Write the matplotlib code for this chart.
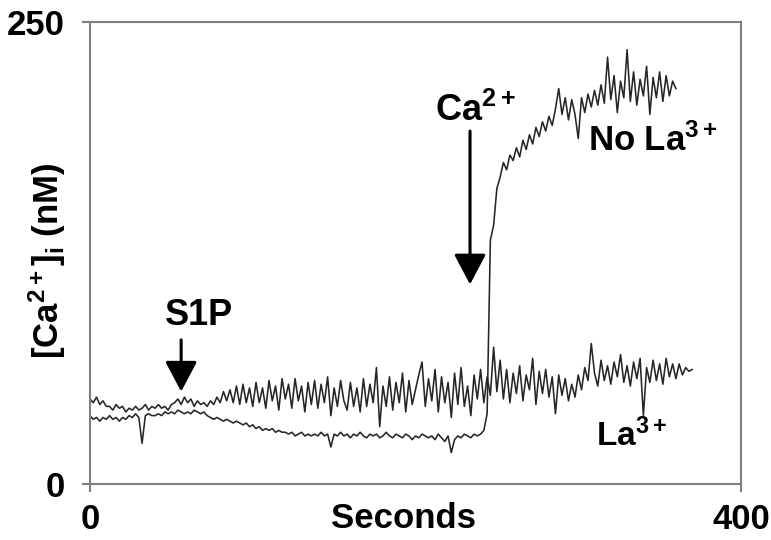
import numpy as np
import matplotlib
matplotlib.use("Agg")
import matplotlib.pyplot as plt

plt.rcParams['font.family'] = ['Liberation Sans', 'DejaVu Sans']
plt.rcParams['font.weight'] = 'bold'
plt.rcParams['mathtext.fontset'] = 'custom'
plt.rcParams['mathtext.rm'] = 'Liberation Sans:bold'
plt.rcParams['mathtext.bf'] = 'Liberation Sans:bold'
plt.rcParams['mathtext.it'] = 'Liberation Sans:bold'
plt.rcParams['mathtext.default'] = 'bf'

# sample grid (seconds), one reading every 2 s
time_la = np.arange(0, 372, 2)      # La3+ trace, 0..370 s
time_nola = np.arange(0, 362, 2)    # No La3+ trace, 0..360 s

# [Ca2+]i (nM), trace with La3+
ca_la = [
    46, 44, 47, 43, 45, 42, 42, 40, 43, 41,
    42, 39, 41, 40, 42, 40, 41, 43, 40, 42,
    41, 43, 41, 42, 40, 43, 44, 46, 43, 47,
    44, 46, 42, 45, 43, 44, 42, 45, 43, 47,
    44, 50, 45, 51, 44, 53, 43, 54, 44, 52,
    42, 55, 44, 52, 41, 56, 45, 53, 40, 57,
    46, 54, 41, 57, 45, 53, 39, 55, 43, 56,
    41, 54, 44, 58, 37, 52, 42, 56, 45, 40,
    55, 42, 52, 39, 57, 42, 54, 44, 63, 31,
    53, 42, 58, 40, 55, 44, 60, 39, 56, 43,
    51, 59, 66, 42, 57, 45, 62, 39, 58, 44,
    55, 36, 60, 43, 63, 42, 53, 37, 59, 46,
    62, 44, 58, 48, 74, 50, 67, 46, 62, 44,
    60, 49, 64, 45, 59, 51, 68, 43, 61, 49,
    62, 47, 58, 38, 59, 48, 57, 45, 54, 47,
    59, 51, 63, 56, 76, 60, 53, 67, 56, 64,
    54, 66, 58, 70, 55, 64, 53, 66, 57, 68,
    37, 63, 55, 67, 56, 65, 54, 68, 58, 65,
    57, 65, 59, 63, 61, 62,
]

# [Ca2+]i (nM), trace without La3+
ca_nola = [
    37, 35, 36, 34, 36, 35, 37, 35, 36, 34,
    36, 35, 37, 36, 38, 36, 22, 37, 38, 37,
    37, 38, 37, 39, 38, 39, 38, 40, 39, 38,
    39, 38, 40, 39, 38, 39, 37, 36, 35, 36,
    35, 34, 35, 34, 33, 34, 33, 32, 33, 31,
    32, 30, 31, 29, 30, 29, 30, 28, 29, 28,
    28, 27, 28, 26, 27, 28, 26, 27, 26, 27,
    26, 28, 26, 27, 20, 27, 26, 28, 26, 27,
    25, 27, 26, 28, 26, 25, 27, 26, 27, 25,
    26, 28, 26, 25, 27, 26, 25, 27, 26, 24,
    26, 25, 27, 26, 25, 26, 24, 27, 25, 23,
    26, 17, 24, 26, 25, 27, 26, 25, 27, 26,
    27, 29, 38, 132, 140, 160, 166, 174, 170, 178,
    175, 182, 177, 186, 181, 189, 184, 193, 188, 196,
    191, 199, 194, 203, 214, 200, 209, 197, 208, 200,
    187, 209, 201, 211, 204, 213, 205, 216, 206, 231,
    208, 221, 201, 218, 209, 235, 207, 223, 205, 219,
    210, 226, 200, 220, 209, 223, 207, 221, 210, 218,
    214,
]

x_ticks = [0, 400]
y_ticks = [0, 250]

fig = plt.figure(figsize=(7.71, 5.40), dpi=100)
ax = fig.add_axes([90 / 771, 1 - 484 / 540, (741 - 90) / 771, (484 - 22) / 540])

ax.plot(time_la, ca_la, color='#262626', lw=1.15)
ax.plot(time_nola, ca_nola, color='#262626', lw=1.15)

ax.set_xlim(0, 400)
ax.set_ylim(0, 250)
ax.set_xticks(x_ticks)
ax.set_yticks(y_ticks)
ax.tick_params(axis='both', direction='out', length=6, width=1.5, color='#808080')
ax.tick_params(axis='x', pad=8)
ax.tick_params(axis='y', pad=12)
for lab in ax.get_xticklabels() + ax.get_yticklabels():
    lab.set_fontweight('bold')
    lab.set_fontsize(25)
for s in ax.spines.values():
    s.set_color('#808080')
    s.set_linewidth(1.5)

fig.text(403 / 771, 1 - 518 / 540, 'Seconds', fontsize=25, fontweight='bold',
         ha='center', va='center')
fig.text(47 / 771, 1 - 261 / 540, r'[Ca$^{2+}$]$_{i}$ (nM)', fontsize=25,
         fontweight='bold', ha='center', va='center', rotation=90)

arrow_kw = dict(arrowstyle='-|>,head_width=0.45,head_length=0.85', color='black',
                lw=2.2, mutation_scale=22, shrinkA=0, shrinkB=0)
ax.annotate('', xy=(56, 50), xytext=(56, 78), arrowprops=arrow_kw)
ax.text(67, 91, 'S1P', fontsize=26, fontweight='bold', ha='center', va='center')

ax.annotate('', xy=(233.5, 108), xytext=(233.5, 191), arrowprops=arrow_kw)
ax.text(237, 202, r'Ca$^{2+}$', fontsize=26, fontweight='bold', ha='center', va='center')

ax.text(346, 186, r'No La$^{3+}$', fontsize=25, fontweight='bold', ha='center', va='center')
ax.text(333, 26, r'La$^{3+}$', fontsize=24, fontweight='bold', ha='center', va='center')

fig.savefig('out.png', dpi=100)
